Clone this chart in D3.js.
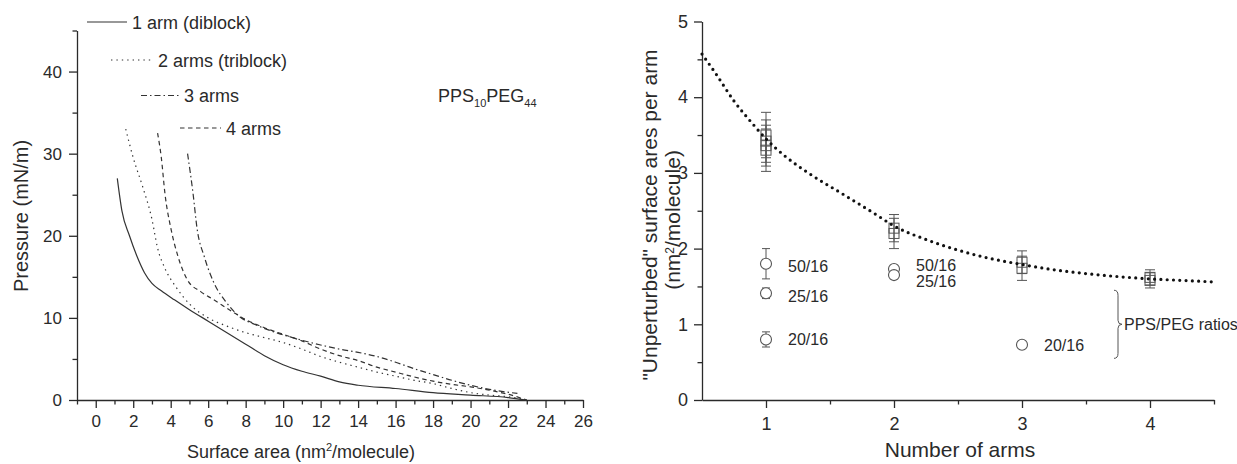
<!DOCTYPE html>
<html>
<head>
<meta charset="utf-8">
<script src="https://cdn.jsdelivr.net/npm/d3@7"></script>
<style>
body { margin: 0; background: #fff; }
text { font-family: "Liberation Sans", Arial, sans-serif; fill: #2a2a2a; }
.axis path, .axis line { stroke: #2a2a2a; stroke-width: 1.3; }
.axis text { fill: #2a2a2a; }
</style>
</head>
<body>
<svg id="chart" width="1237" height="464"></svg>
<script>

// ---- left panel: isotherms, [area nm2/molecule, pressure mN/m] ----
var arm1 = [[1.15,27],[1.4,23],[1.8,20],[2.2,17.5],[2.6,15.5],[3.0,14.2],[3.5,13.3],[4.2,12.2],
    [5,11],[6,9.6],[7,8.2],[8,6.8],[9,5.4],[10,4.3],[11,3.5],[12,2.9],[13,2.2],[14,1.8],
    [16,1.4],[18,0.9],[20,0.6],[22,0.3],[23,0]];
var arm2 = [[1.6,33],[2.0,29.5],[2.5,26],[3.0,22],[3.3,18.5],[3.7,16],[4.3,13.7],[5.0,11.7],
    [6,10],[7,9],[8,8.2],[9,7.6],[10,7.0],[11,6.2],[12,5.3],[13,4.6],[14,4.0],[15,3.4],
    [16,2.9],[17,2.4],[18,2.0],[19,1.4],[20,0.9],[21,0.6],[22,0.4],[23,0]];
var arm3 = [[4.9,30],[5.2,25],[5.4,21],[5.8,17.4],[6.3,14.3],[7.0,11.8],[7.7,10.1],[8.5,9.2],
    [9.5,8.3],[10.5,7.6],[12,6.7],[13,6.2],[14,5.8],[15,5.3],[16,4.6],[17,3.8],[18,3.1],
    [19,2.4],[20,1.8],[21,1.3],[22.5,0.8]];
var arm4 = [[3.3,32.5],[3.5,29.5],[3.7,25],[4.0,21],[4.4,17.4],[4.9,14.6],[5.6,13.2],[6.3,12.2],
    [7.4,10.6],[8,9.8],[9,8.8],[10,8.0],[11,7.2],[12,6.2],[13,5.4],[14,4.8],[15,4.0],
    [16,3.4],[17,2.8],[18,2.3],[19,1.9],[20,1.6],[21,1.2],[22,0.7],[23,0]];
var seriesNames = ["1 arm (diblock)", "2 arms (triblock)", "3 arms", "4 arms"];
var areaTicks = d3.range(0, 27, 2);
var pressureTicks = [0, 10, 20, 30, 40];

// ---- right panel: area per arm vs number of arms ----
var armCounts = [1, 2, 3, 4];
var boxArms   = [1, 1, 1, 1, 2, 2, 3, 3, 4, 4];
var boxValues = [3.50, 3.42, 3.36, 3.30, 2.27, 2.20, 1.82, 1.74, 1.62, 1.58];
var boxErrors = [0.30, 0.28, 0.27, 0.28, 0.18, 0.20, 0.15, 0.16, 0.10, 0.10];
var ratioArms   = [1, 1, 1, 2, 2, 3];
var ratioValues = [1.80, 1.41, 0.80, 1.73, 1.65, 0.73];
var ratioErrors = [0.20, 0.07, 0.10, 0.05, 0.05, 0];
var ratioLabels = ["50/16", "25/16", "20/16", "50/16", "25/16", "20/16"];
var fitArms   = [0.5, 0.6, 0.75, 0.9, 1.0, 1.15, 1.33, 1.6, 1.85, 2.0, 2.25, 2.5, 2.75, 3.0, 3.25, 3.5, 3.75, 4.0, 4.25, 4.5];
var fitValues = [4.57, 4.33, 3.95, 3.64, 3.45, 3.22, 3.0, 2.72, 2.46, 2.3, 2.12, 1.98, 1.87, 1.79, 1.72, 1.67, 1.63, 1.6, 1.58, 1.56];

var ink = "#333";
var svg = d3.select("#chart");

/**
 * draws an axis with major + minor ticks
 */
function drawAxis(g, axisFn, scale, major, minor, pad, fontSize){
    var a = g.append("g").attr("class", "axis")
        .call(axisFn(scale).tickValues(major).tickSize(8).tickSizeOuter(0).tickPadding(pad).tickFormat(d3.format("d")));
    a.selectAll("text").style("font-size", fontSize + "px");
    var m = g.append("g").attr("class", "axis")
        .call(axisFn(scale).tickValues(minor).tickSize(4.5).tickSizeOuter(0).tickFormat(""));
    m.select(".domain").remove();
}

// ================= left panel =================
var xA = d3.scaleLinear().domain([-1, 26]).range([77, 583]);
var yP = d3.scaleLinear().domain([0, 45]).range([400, 30.5]);

var left = svg.append("g");

drawAxis(left.append("g").attr("transform", "translate(0,400)"), d3.axisBottom, xA,
    areaTicks, d3.range(-1, 26, 2), 7, 17);
drawAxis(left.append("g").attr("transform", "translate(" + xA(-1) + ",0)"), d3.axisLeft, yP,
    pressureTicks, [5, 15, 25, 35, 45], 7, 17);

var isoLine = d3.line()
    .x(function(d){ return xA(d[0]); })
    .y(function(d){ return yP(d[1]); })
    .curve(d3.curveMonotoneX);

var dashes = [null, "1.4 4", "6 3 1.5 3", "4.5 3.5"];
var curves = [arm1, arm2, arm3, arm4];

left.selectAll("path.iso")
    .data(curves)
    .enter().append("path")
    .attr("class", "iso")
    .attr("d", isoLine)
    .attr("fill", "none")
    .attr("stroke", ink)
    .attr("stroke-width", 1.2)
    .attr("stroke-dasharray", function(d, i){ return dashes[i]; });

// legend
var legendRows = [
    {x1: 87, x2: 127, y: 22},
    {x1: 111, x2: 153, y: 60},
    {x1: 141, x2: 179, y: 95.5},
    {x1: 180, x2: 221, y: 128}
];
var leg = left.selectAll("g.leg")
    .data(seriesNames)
    .enter().append("g").attr("class", "leg");
leg.append("line")
    .attr("x1", function(d, i){ return legendRows[i].x1; })
    .attr("x2", function(d, i){ return legendRows[i].x2; })
    .attr("y1", function(d, i){ return legendRows[i].y; })
    .attr("y2", function(d, i){ return legendRows[i].y; })
    .attr("stroke", ink)
    .attr("stroke-width", 1.2)
    .attr("stroke-dasharray", function(d, i){ return dashes[i]; });
leg.append("text")
    .attr("x", function(d, i){ return legendRows[i].x2 + 5; })
    .attr("y", function(d, i){ return legendRows[i].y + 6.5; })
    .style("font-size", "18px")
    .text(function(d){ return d; });

var pps = left.append("text").attr("x", 438).attr("y", 102).style("font-size", "18px");
pps.append("tspan").text("PPS");
pps.append("tspan").attr("dy", 5).style("font-size", "11px").text("10");
pps.append("tspan").attr("dy", -5).text("PEG");
pps.append("tspan").attr("dy", 5).style("font-size", "11px").text("44");

left.append("text")
    .attr("transform", "translate(28,216) rotate(-90)")
    .attr("text-anchor", "middle")
    .style("font-size", "20px")
    .text("Pressure (mN/m)");

var xt = left.append("text")
    .attr("x", 301).attr("y", 458)
    .attr("text-anchor", "middle")
    .style("font-size", "18px");
xt.append("tspan").text("Surface area (nm");
xt.append("tspan").attr("dy", -7).style("font-size", "11px").text("2");
xt.append("tspan").attr("dy", 7).text("/molecule)");

// ================= right panel =================
var xN = d3.scaleLinear().domain([0.5, 4.5]).range([702, 1214]);
var yS = d3.scaleLinear().domain([0, 5]).range([400, 21.5]);

var right = svg.append("g");

drawAxis(right.append("g").attr("transform", "translate(0,400)"), d3.axisBottom, xN,
    armCounts, [1.5, 2.5, 3.5, 4.5], 9, 18);
drawAxis(right.append("g").attr("transform", "translate(" + xN(0.5) + ",0)"), d3.axisLeft, yS,
    [0, 1, 2, 3, 4, 5], [0.5, 1.5, 2.5, 3.5, 4.5], 6, 18);

var marker = "#555";

var boxes = boxValues.map(function(v, i){ return {n: boxArms[i], v: v, e: boxErrors[i]}; });
var ratios = ratioValues.map(function(v, i){ return {n: ratioArms[i], v: v, e: ratioErrors[i], label: ratioLabels[i]}; });

function errorBars(g, data, capW){
    var eb = g.selectAll(null).data(data.filter(function(d){ return d.e > 0; })).enter().append("g");
    eb.append("line")
        .attr("x1", function(d){ return xN(d.n); }).attr("x2", function(d){ return xN(d.n); })
        .attr("y1", function(d){ return yS(d.v + d.e); }).attr("y2", function(d){ return yS(d.v - d.e); });
    [1, -1].forEach(function(s){
        eb.append("line")
            .attr("x1", function(d){ return xN(d.n) - capW; }).attr("x2", function(d){ return xN(d.n) + capW; })
            .attr("y1", function(d){ return yS(d.v + s * d.e); }).attr("y2", function(d){ return yS(d.v + s * d.e); });
    });
    eb.selectAll("line").attr("stroke", marker).attr("stroke-width", 1);
}

errorBars(right, boxes, 5);
errorBars(right, ratios, 4);

right.selectAll("rect.box")
    .data(boxes)
    .enter().append("rect")
    .attr("class", "box")
    .attr("x", function(d){ return xN(d.n) - 5; })
    .attr("y", function(d){ return yS(d.v) - 5; })
    .attr("width", 10).attr("height", 10)
    .attr("fill", "none")
    .attr("stroke", marker)
    .attr("stroke-width", 1);

// fitted decay (dotted)
var fitLine = d3.line()
    .x(function(d, i){ return xN(fitArms[i]); })
    .y(function(d){ return yS(d); })
    .curve(d3.curveMonotoneX);
right.append("path")
    .attr("d", fitLine(fitValues))
    .attr("fill", "none")
    .attr("stroke", "#111")
    .attr("stroke-width", 3.2)
    .attr("stroke-linecap", "round")
    .attr("stroke-dasharray", "0 6.3");

right.selectAll("circle.ratio")
    .data(ratios)
    .enter().append("circle")
    .attr("class", "ratio")
    .attr("cx", function(d){ return xN(d.n); })
    .attr("cy", function(d){ return yS(d.v); })
    .attr("r", 5.5)
    .attr("fill", "#fff")
    .attr("stroke", marker)
    .attr("stroke-width", 1.1);

var labelShift = [2, 3, 0, -4, 6, 0];
right.selectAll("text.ratio")
    .data(ratios)
    .enter().append("text")
    .attr("class", "ratio")
    .attr("x", function(d){ return xN(d.n) + 22; })
    .attr("y", function(d, i){ return yS(d.v) + labelShift[i] + 6; })
    .style("font-size", "16px")
    .text(function(d){ return d.label; });

// brace for the PPS/PEG ratios
var bx = 1114, by1 = yS(1.45), by2 = yS(0.55), bm = (by1 + by2) / 2;
right.append("path")
    .attr("d", "M" + bx + "," + by1 + " Q" + (bx + 4) + "," + by1 + " " + (bx + 4) + "," + (by1 + 5) +
        " L" + (bx + 4) + "," + (bm - 4) + " Q" + (bx + 4) + "," + bm + " " + (bx + 8) + "," + bm +
        " Q" + (bx + 4) + "," + bm + " " + (bx + 4) + "," + (bm + 4) +
        " L" + (bx + 4) + "," + (by2 - 5) + " Q" + (bx + 4) + "," + by2 + " " + bx + "," + by2)
    .attr("fill", "none")
    .attr("stroke", marker)
    .attr("stroke-width", 1);
right.append("text")
    .attr("x", bx + 10).attr("y", bm + 5.5)
    .style("font-size", "16px")
    .text("PPS/PEG ratios");

right.append("text")
    .attr("transform", "translate(657,215) rotate(-90)")
    .attr("text-anchor", "middle")
    .style("font-size", "21px")
    .text("\"Unperturbed\" surface ares per arm");
var yt2 = right.append("text")
    .attr("transform", "translate(680,220) rotate(-90)")
    .attr("text-anchor", "middle")
    .style("font-size", "21px");
yt2.append("tspan").text("(nm");
yt2.append("tspan").attr("dy", -6).style("font-size", "12px").text("2");
yt2.append("tspan").attr("dy", 6).text("/molecule)");

right.append("text")
    .attr("x", 960).attr("y", 457)
    .attr("text-anchor", "middle")
    .style("font-size", "21px")
    .text("Number of arms");

</script>
</body>
</html>
